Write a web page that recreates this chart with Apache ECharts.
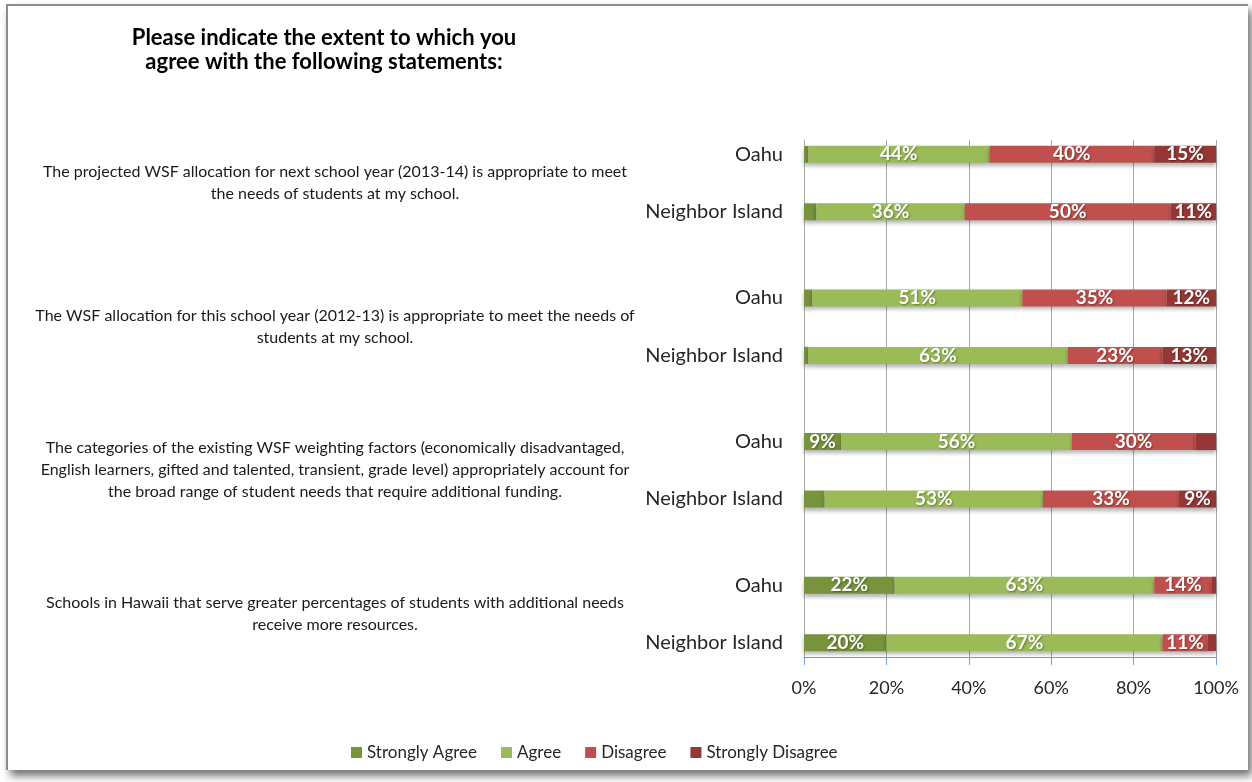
<!DOCTYPE html>
<html><head><meta charset="utf-8">
<script src="https://cdn.jsdelivr.net/npm/echarts@6/dist/echarts.min.js"></script>
<style>
html,body{margin:0;padding:0;background:#fff;width:1252px;height:782px;overflow:hidden;}
#frame{position:absolute;left:6px;top:4px;width:1240px;height:764px;border-top:2px solid #8c8c8c;border-left:2px solid #8c8c8c;box-shadow:4px 6px 8px rgba(0,0,0,0.55);background:#fff;}
#chart{position:absolute;left:0;top:0;width:1252px;height:782px;}
</style></head><body>
<div id="frame"></div><div id="chart"></div>
<script>
const titleText = 'Please indicate the extent to which you\nagree with the following statements:';
const statements = [
  'The projected WSF allocation for next school year (2013-14) is appropriate to meet\nthe needs of students at my school.',
  'The WSF allocation for this school year (2012-13) is appropriate to meet the needs of\nstudents at my school.',
  'The categories of the existing WSF weighting factors (economically disadvantaged,\nEnglish learners, gifted and talented, transient, grade level) appropriately account for\nthe broad range of student needs that require additional funding.',
  'Schools in Hawaii that serve greater percentages of students with additional needs\nreceive more resources.'
];
const regions = ['Oahu', 'Neighbor Island'];
const seriesNames = ['Strongly Agree', 'Agree', 'Disagree', 'Strongly Disagree'];
// order: stmt1 Oahu, stmt1 NI, stmt2 Oahu, stmt2 NI, ...
const stronglyAgree    = [1, 3, 2, 1, 9, 5, 22, 20];
const agree            = [44, 36, 51, 63, 56, 53, 63, 67];
const disagree         = [40, 50, 35, 23, 30, 33, 14, 11];
const stronglyDisagree = [15, 11, 12, 13, 5, 9, 1, 2];
const xTicks = { min: 0, max: 100, interval: 20 };

const colors = ['#77933C', '#9BBB59', '#C0504D', '#953735'];
const FONT = 'Lato';

// slot layout: each statement group = Oahu, (statement), NI, gap, gap
const PER = 5;
const nSlots = statements.length * PER - 2;
const slotIdx = [];
const regionLab = new Array(nSlots).fill('');
const stmtLab = new Array(nSlots).fill('');
statements.forEach((s, g) => {
  stmtLab[g * PER + 1] = s;
  regions.forEach((r, k) => {
    const slot = g * PER + 2 * k;
    regionLab[slot] = r;
    slotIdx.push(slot);
  });
});
const cats = regionLab.map((_, i) => String(i));
function toSlots(vals) {
  const a = new Array(nSlots).fill('-');
  vals.forEach((v, i) => { a[slotIdx[i]] = v; });
  return a;
}
const allVals = [stronglyAgree, agree, disagree, stronglyDisagree];

const chart = echarts.init(document.getElementById('chart'), null, { renderer: 'canvas' });
chart.setOption({
  backgroundColor: 'transparent',
  animation: false,
  title: {
    text: titleText, left: 324, top: 26, padding: 0, textAlign: 'center',
    textStyle: { fontFamily: FONT, fontSize: 22, fontWeight: 'bold', color: '#000', lineHeight: 24 }
  },
  legend: {
    data: seriesNames, left: 351, top: 744, padding: 0, itemWidth: 11, itemHeight: 11, itemGap: 24, icon: 'rect',
    textStyle: { fontFamily: FONT, fontSize: 17, color: '#262626' }
  },
  grid: { left: 804, right: 36, top: 140, bottom: 125, containLabel: false },
  xAxis: {
    type: 'value', min: xTicks.min, max: xTicks.max, interval: xTicks.interval,
    axisLine: { show: true, lineStyle: { color: '#6f9fd8', width: 1 } },
    axisTick: { show: true, length: 8, lineStyle: { color: '#6f9fd8' } },
    axisLabel: { formatter: '{value}%', fontFamily: FONT, fontSize: 18, color: '#262626', margin: 22 },
    splitLine: { show: true, lineStyle: { color: '#a9a9a9', width: 1 } }
  },
  yAxis: [
    {
      type: 'category', data: cats, inverse: true, position: 'left',
      axisLine: { show: true, lineStyle: { color: '#a9a9a9' } },
      axisTick: { show: false },
      axisLabel: { interval: 0, margin: 21, fontFamily: FONT, fontSize: 20, color: '#262626',
        formatter: (v, i) => regionLab[i] }
    },
    {
      type: 'category', data: cats, inverse: true, position: 'left', offset: 0,
      axisLine: { show: false }, axisTick: { show: false }, splitLine: { show: false },
      axisLabel: { interval: 0, margin: 469, align: 'center', fontFamily: FONT, fontSize: 16,
        lineHeight: 22, color: '#1a1a1a', formatter: (v, i) => stmtLab[i] }
    }
  ],
  series: seriesNames.map((name, s) => ({
    name, type: 'bar', stack: 'total', yAxisIndex: 0, barWidth: 17,
    data: toSlots(allVals[s]),
    itemStyle: { color: colors[s], shadowColor: 'rgba(0,0,0,0.3)', shadowBlur: 4, shadowOffsetY: 3 },
    label: {
      show: true, position: 'inside', color: '#fff', fontFamily: FONT, fontSize: 19, fontWeight: 'bold',
      textShadowColor: 'rgba(0,0,0,0.35)', textShadowBlur: 2, textShadowOffsetX: 1, textShadowOffsetY: 1,
      formatter: p => (p.value >= 8 ? p.value + '%' : '')
    }
  }))
});
</script>
</body></html>
